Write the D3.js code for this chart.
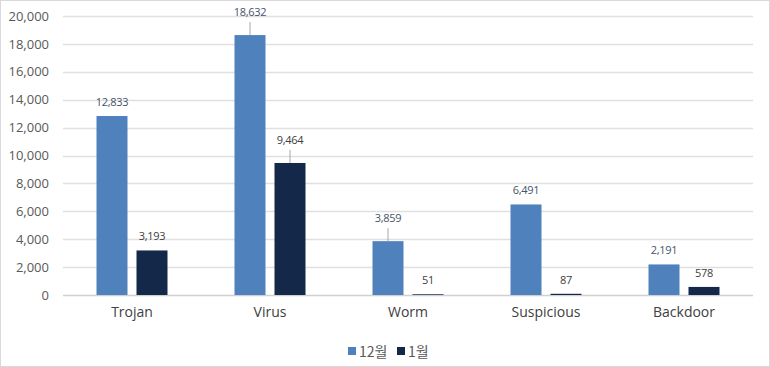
<!DOCTYPE html>
<html>
<head>
<meta charset="utf-8">
<script src="https://cdn.jsdelivr.net/npm/d3@7"></script>
<style>
  body { margin: 0; background: #fff; }
  svg { display: block; }
</style>
</head>
<body>
<div id="chart"></div>
<script>
// categories and series
const categories = ["Trojan", "Virus", "Worm", "Suspicious", "Backdoor"];
const seriesNames = ["12월", "1월"];
const dec = [12833, 18632, 3859, 6491, 2191];
const jan = [3193, 9464, 51, 87, 578];
const yTicks = [0, 2000, 4000, 6000, 8000, 10000, 12000, 14000, 16000, 18000, 20000];
// which labels sit higher with a leader line
const leaderDec = [false, true, true, false, false];
const leaderJan = [false, true, false, false, false];

const colors = ["#4F81BD", "#14284A"];

const W = 770, H = 367;
const margin = {top: 16, right: 16, bottom: 72, left: 63},
    width = 753 - margin.left,
    height = 295 - margin.top;

const svg = d3.select("#chart")
  .append("svg")
    .attr("width", W)
    .attr("height", H);

// outer border
svg.append("rect")
  .attr("x", 0.5).attr("y", 0.5)
  .attr("width", W - 1).attr("height", H - 1)
  .attr("fill", "#fff")
  .attr("stroke", "#d9d9d9");

const g = svg.append("g")
  .attr("transform", "translate(" + margin.left + "," + margin.top + ")");

const x = d3.scaleBand()
  .domain(categories)
  .range([0, width])
  .paddingInner(0)
  .paddingOuter(0);

const x1 = d3.scaleBand()
  .domain(seriesNames)
  .range([x.bandwidth() / 2 - 35.5, x.bandwidth() / 2 + 35.5])
  .paddingInner(0.225);

const y = d3.scaleLinear()
  .domain([0, 20000])
  .range([height, 0]);

// gridlines
g.append("g")
  .selectAll("line")
  .data(yTicks)
  .join("line")
    .attr("x1", 0).attr("x2", width)
    .attr("y1", d => Math.round(y(d)) + 0.5)
    .attr("y2", d => Math.round(y(d)) + 0.5)
    .attr("stroke", d => d === 0 ? "#d0d0d0" : "#e0e0e0")
    .attr("stroke-width", 1.3);

// y axis labels
const yAxis = g.append("g")
  .call(d3.axisLeft(y).tickValues(yTicks).tickFormat(d3.format(",")).tickSize(0).tickPadding(14));
yAxis.select(".domain").remove();
yAxis.selectAll("text")
  .attr("font-family", "Open Sans, Noto Sans, sans-serif")
  .attr("font-size", 13)
  .attr("fill", "#595959");

// x axis labels
const xAxis = g.append("g")
  .attr("transform", "translate(0," + height + ")")
  .call(d3.axisBottom(x).tickSize(0).tickPadding(12));
xAxis.select(".domain").remove();
xAxis.selectAll("text")
  .attr("font-family", "Open Sans, Noto Sans, sans-serif")
  .attr("font-size", 14)
  .attr("fill", "#404040");

const rows = categories.map((c, i) => ({
  cat: c,
  vals: [
    {s: seriesNames[0], v: dec[i], leader: leaderDec[i], col: colors[0], lab: "#44546A"},
    {s: seriesNames[1], v: jan[i], leader: leaderJan[i], col: colors[1], lab: "#404040"}
  ]
}));

const grp = g.selectAll(".grp")
  .data(rows)
  .join("g")
    .attr("transform", d => "translate(" + x(d.cat) + ",0)");

grp.selectAll("rect")
  .data(d => d.vals)
  .join("rect")
    .attr("x", d => x1(d.s))
    .attr("y", d => y(d.v))
    .attr("width", x1.bandwidth())
    .attr("height", d => height - y(d.v))
    .attr("fill", d => d.col);

// leader lines
grp.selectAll("line.leader")
  .data(d => d.vals.filter(v => v.leader))
  .join("line")
    .attr("class", "leader")
    .attr("x1", d => x1(d.s) + x1.bandwidth() / 2)
    .attr("x2", d => x1(d.s) + x1.bandwidth() / 2)
    .attr("y1", d => y(d.v))
    .attr("y2", d => y(d.v) - 13)
    .attr("stroke", "#a6a6a6")
    .attr("stroke-width", 1);

// data labels
grp.selectAll("text.val")
  .data(d => d.vals)
  .join("text")
    .attr("class", "val")
    .attr("x", d => x1(d.s) + x1.bandwidth() / 2)
    .attr("y", d => y(d.v) - (d.leader ? 19 : 10))
    .attr("text-anchor", "middle")
    .attr("font-family", "Open Sans, Noto Sans, sans-serif")
    .attr("font-size", 11)
    .attr("letter-spacing", -0.3)
    .attr("fill", d => d.lab)
    .text(d => d3.format(",")(d.v));

// legend
const legend = svg.append("g")
  .attr("transform", "translate(348,352)");
const items = [{n: seriesNames[0], c: colors[0], dx: 0}, {n: seriesNames[1], c: colors[1], dx: 49}];
const li = legend.selectAll("g")
  .data(items)
  .join("g")
    .attr("transform", d => "translate(" + d.dx + ",0)");
li.append("rect")
  .attr("x", 0).attr("y", -5)
  .attr("width", 8).attr("height", 8)
  .attr("fill", d => d.c);
li.append("text")
  .attr("x", 11).attr("y", 0)
  .attr("dy", "0.35em")
  .attr("font-family", "Noto Sans CJK KR, sans-serif")
  .attr("font-size", 14)
  .attr("fill", "#595959")
  .text(d => d.n);
</script>
</body>
</html>
